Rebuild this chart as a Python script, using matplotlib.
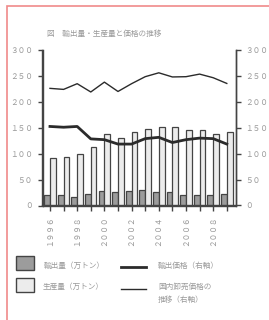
import matplotlib
matplotlib.use("Agg")
from matplotlib import pyplot as plt
from matplotlib.patches import Rectangle
from matplotlib.lines import Line2D

plt.rcParams["font.family"] = ["Noto Sans CJK JP", "DejaVu Sans"]

# data
years = ["１９９６", "１９９７", "１９９８", "１９９９", "２０００", "２００１", "２００２",
         "２００３", "２００４", "２００５", "２００６", "２００７", "２００８", "２００９"]
export_bar = [20, 20.5, 17, 21.5, 27.5, 26, 27.5, 30, 26, 26, 21, 21, 20, 23]
total_bar = [92.5, 94, 99, 113, 138.5, 130, 142, 148, 151.5, 152, 145, 145, 138.5, 141.5]
price_line = [152.5, 151, 152.5, 128.5, 127, 118.5, 118.5, 129, 131.5, 121.5, 127, 130, 129, 118.5]
home_line = [226, 224, 235, 219, 238, 220, 235, 248.5, 256, 248, 248.5, 253.5, 246.5, 235.5]
y_ticks = [0, 50, 100, 150, 200, 250, 300]
y_labels = ["０", "５０", "１００", "１５０", "２００", "２５０", "３００"]

title = "図　輸出量・生産量と価格の推移"
lab_export = "輸出量（万トン）"
lab_total = "生産量（万トン）"
lab_price = "輸出価格（右軸）"
lab_home = "国内卸売価格の\n推移（右軸）"

txt_col = "#999999"
edge = "#444444"
dark = "#9c9c9c"
light = "#ececec"
fs = 5.5

fig = plt.figure(figsize=(2.69, 3.2), dpi=100)
ax = fig.add_axes([42.5/269, 1-205.5/320, 193/269, 155.5/320])
ax2 = ax.twinx()

x = list(range(len(years)))
w = 0.42
ax.bar([i - w/2 for i in x], export_bar, w, color=dark, edgecolor=edge, linewidth=0.9)
ax.bar([i + w/2 for i in x], total_bar, w, color=light, edgecolor=edge, linewidth=0.9)
ax2.plot(x, price_line, color="#2b2b2b", linewidth=2)
ax2.plot(x, home_line, color="#2b2b2b", linewidth=1)

for a in (ax, ax2):
    a.set_ylim(0, 300)
    a.set_xlim(-0.55, 13.64)
    a.spines["top"].set_visible(False)
    for s in ("left", "right", "bottom"):
        a.spines[s].set_color(edge)
        a.spines[s].set_linewidth(1)
ax.set_yticks(y_ticks)
ax.set_yticklabels(y_labels)
ax2.set_yticks(y_ticks)
ax2.set_yticklabels(y_labels)
ax.set_xticks(x)
ax.set_xticklabels([y if i % 2 == 0 else "" for i, y in enumerate(years)], rotation=90)
ax.tick_params(axis="both", colors=edge, labelcolor=txt_col, labelsize=fs, length=3.5, width=1)
ax2.tick_params(axis="y", colors=edge, labelcolor=txt_col, labelsize=fs, length=3.5, width=1)

fig.text(47/269, 1-34/320, title, color=txt_col, fontsize=fs, va="center", ha="left")

# legend drawn by hand
fig.add_artist(Rectangle((16/269, 1-270/320), 18/269, 14/320, transform=fig.transFigure,
                         facecolor=dark, edgecolor=edge, linewidth=1))
fig.add_artist(Rectangle((16/269, 1-292/320), 18/269, 14/320, transform=fig.transFigure,
                         facecolor=light, edgecolor=edge, linewidth=1))
fig.add_artist(Line2D([121/269, 146/269], [1-267/320, 1-267/320], color="#2b2b2b", linewidth=2))
fig.add_artist(Line2D([121/269, 146/269], [1-289/320, 1-289/320], color="#2b2b2b", linewidth=1))
fig.text(44/269, 1-265.5/320, lab_export, color=txt_col, fontsize=fs, va="center")
fig.text(43/269, 1-287/320, lab_total, color=txt_col, fontsize=fs, va="center")
fig.text(158/269, 1-265.5/320, lab_price, color=txt_col, fontsize=fs, va="center")
fig.text(158/269, 1-282.5/320, lab_home, color=txt_col, fontsize=fs, va="top", linespacing=1.9)

# pink frame, only top and left edges fall inside the picture
fig.add_artist(Rectangle((7/269, -0.1), 1.2, 1-6/320+0.1, transform=fig.transFigure,
                         fill=False, edgecolor="#f08a8a", linewidth=1.2))

fig.savefig("out.png", dpi=100)
